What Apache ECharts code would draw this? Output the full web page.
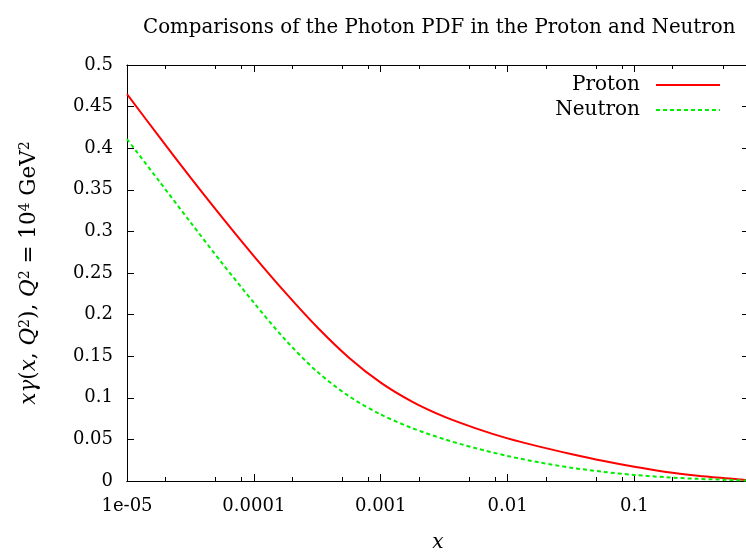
<!DOCTYPE html>
<html><head><meta charset="utf-8">
<script src="https://cdn.jsdelivr.net/npm/echarts@6/dist/echarts.min.js"></script>
<style>html,body{margin:0;padding:0;overflow:hidden;background:#fff;width:746px;height:554px}#c{width:752px;height:554px}</style>
</head><body><div id="c"></div>
<script>
// Data
const xValues = [1e-5, 1.78e-5, 3.16e-5, 5.62e-5, 1e-4, 1.78e-4, 3.16e-4, 5.62e-4, 1e-3, 1.78e-3, 3.16e-3, 5.62e-3,
                 1e-2, 1.78e-2, 3.16e-2, 5.62e-2, 0.1, 0.178, 0.316, 0.562, 0.794];
const protonValues = [0.465, 0.4144, 0.3650, 0.3169, 0.2704, 0.2261, 0.1848, 0.1482, 0.1182, 0.0951, 0.0773, 0.0633,
                      0.0512, 0.0413, 0.0325, 0.0243, 0.0170, 0.0108, 0.0064, 0.0030, 0.0010];
const neutronValues = [0.411, 0.361, 0.3111, 0.2618, 0.2143, 0.1693, 0.1313, 0.1019, 0.0800, 0.0634, 0.0503, 0.0394,
                       0.0301, 0.0223, 0.0160, 0.0111, 0.0073, 0.0045, 0.0026, 0.0013, 0.0005];
const seriesNames = ['Proton', 'Neutron'];
const xMajorTicks = [1e-5, 1e-4, 1e-3, 1e-2, 1e-1];
const xTickLabels = ['1e-05', '0.0001', '0.001', '0.01', '0.1'];
const xMinorTicks = [2e-5,5e-5,8e-5,2e-4,5e-4,8e-4,2e-3,5e-3,8e-3,2e-2,5e-2,8e-2,0.2,0.5];
const xMin = 1e-5, xMax = 0.8;
const yMin = 0, yMax = 0.5, yStep = 0.05;

const FONT = 'DejaVu Serif';
const zip = (xs, ys) => xs.map((x, i) => [x, ys[i]]);
const labelFor = v => {
  for (let i = 0; i < xMajorTicks.length; i++) if (Math.abs(Math.log10(v) - Math.log10(xMajorTicks[i])) < 1e-6) return xTickLabels[i];
  return '';
};
const axisLineStyle = {color: '#000', width: 1};
function xAxisDef(pos, ticks, len, labels) {
  return {
    type: 'log', logBase: 10, min: xMin, max: xMax, position: pos,
    axisLine: {show: true, onZero: false, lineStyle: axisLineStyle},
    axisTick: {show: true, inside: true, length: len, customValues: ticks, lineStyle: {color: '#000'}},
    axisLabel: labels ? {show: true, customValues: xMajorTicks, formatter: labelFor, color: '#000', fontFamily: FONT, fontSize: 18, margin: 16} : {show: false},
    splitLine: {show: false}, minorTick: {show: false},
    name: labels ? 'x' : '', nameLocation: 'middle', nameGap: 52,
    nameTextStyle: {fontFamily: FONT, fontStyle: 'italic', fontSize: 20, color: '#000'}
  };
}
function yAxisDef(pos, labels) {
  return {
    type: 'value', min: yMin, max: yMax, interval: yStep, position: pos,
    axisLine: {show: true, onZero: false, lineStyle: axisLineStyle},
    axisTick: {show: true, inside: true, length: 7, lineStyle: {color: '#000'}},
    axisLabel: labels ? {show: true, color: '#000', fontFamily: FONT, fontSize: 18, margin: 14,
      formatter: v => String(+v.toFixed(2))} : {show: false},
    splitLine: {show: false},
    name: labels ? '{i|xγ}({i|x}, {i|Q}{s|2}), {i|Q}{s|2} = 10{s|4} GeV{s|2}' : '',
    nameLocation: 'middle', nameRotate: 90, nameGap: 86,
    nameTextStyle: {fontFamily: FONT, fontSize: 21.5, color: '#000',
      rich: {i: {fontFamily: FONT, fontStyle: 'italic', fontSize: 21.5, color: '#000'},
             s: {fontFamily: FONT, fontSize: 14, color: '#000', verticalAlign: 'top', padding: [0,0,9,0]}}}
  };
}
const chart = echarts.init(document.getElementById('c'), null, {renderer: 'canvas'});
chart.setOption({
  animation: false,
  backgroundColor: '#fff',
  title: {text: 'Comparisons of the Photon PDF in the Proton and Neutron', left: 138, top: 13,
    textStyle: {fontFamily: FONT, fontWeight: 'normal', fontSize: 19.8, color: '#000'}},
  grid: {left: 127, right: 3, top: 65, bottom: 73, outerBoundsMode: 'none', containLabel: false},
  legend: {
    right: 26, top: 70, orient: 'vertical', align: 'right', itemWidth: 64, itemHeight: 10, itemGap: 5,
    itemStyle: {opacity: 0},
    textStyle: {fontFamily: FONT, fontSize: 20, color: '#000', padding: [0, 11, 0, 0]},
    data: seriesNames
  },
  xAxis: [xAxisDef('bottom', xMajorTicks, 7, true), xAxisDef('bottom', xMinorTicks, 4, false),
          xAxisDef('top', xMajorTicks, 7, false), xAxisDef('top', xMinorTicks, 4, false)],
  yAxis: [yAxisDef('left', true), yAxisDef('right', false)],
  series: [
    {name: seriesNames[0], type: 'line', xAxisIndex: 0, yAxisIndex: 0, data: zip(xValues, protonValues),
     showSymbol: false, symbol: 'none', smooth: 0.3, lineStyle: {color: '#ff0000', width: 2}, itemStyle: {color: '#ff0000'}},
    {name: seriesNames[1], type: 'line', xAxisIndex: 0, yAxisIndex: 0, data: zip(xValues, neutronValues),
     showSymbol: false, symbol: 'none', smooth: 0.3, lineStyle: {color: '#00ee00', width: 2, type: [4, 3]}, itemStyle: {color: '#00ee00'}}
  ]
});
</script></body></html>
